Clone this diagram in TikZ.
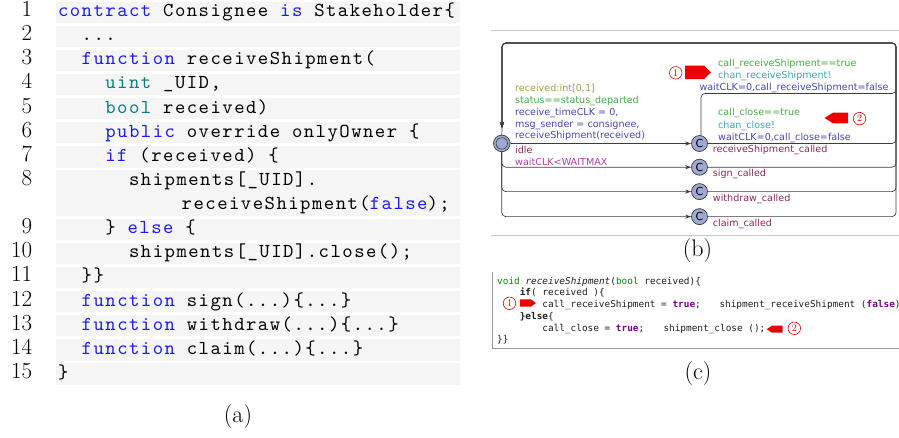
\documentclass[tikz,border=0pt]{standalone}
\usepackage{fontspec}
\newfontfamily\codett{lmmono10-regular.otf}[LetterSpace=7.5]
\newfontfamily\uppfont{DejaVu Sans}
\newfontfamily\cmono{DejaVu Sans Mono}
\usetikzlibrary{arrows.meta,calc}
\definecolor{kwblue}{RGB}{25,25,250}
\definecolor{tyteal}{RGB}{0,128,128}
\definecolor{bandgray}{RGB}{245,245,245}
\definecolor{uolive}{RGB}{160,160,60}
\definecolor{ugreen}{RGB}{70,170,70}
\definecolor{ublue}{RGB}{70,70,185}
\definecolor{uteal}{RGB}{60,165,175}
\definecolor{umaroon}{RGB}{140,40,90}
\definecolor{umag}{RGB}{175,60,175}
\definecolor{sfill}{RGB}{160,168,212}
\definecolor{edgec}{RGB}{60,60,60}
\definecolor{cgreen}{RGB}{0,140,0}
\definecolor{cpurple}{RGB}{120,0,140}
\definecolor{mred}{RGB}{235,0,0}
\definecolor{rulegray}{RGB}{200,200,200}
\newcommand{\kw}[1]{{\color{kwblue}#1}}
\newcommand{\ty}[1]{{\color{tyteal}#1}}
\newcommand{\tv}[1]{{\bfseries\color{cpurple}#1}}
\begin{document}
\begin{tikzpicture}[x=1pt,y=-1pt,
  codeline/.style={anchor=base west,inner sep=0pt,font=\fontsize{19.75}{22}\selectfont\codett},
  lnum/.style={anchor=base east,inner sep=0pt,font=\fontsize{23}{23}\selectfont},
  capt/.style={anchor=base,inner sep=0pt,font=\fontsize{24}{24}\selectfont},
  ulabel/.style={anchor=base west,inner sep=0pt,font=\fontsize{9.6}{11}\selectfont\uppfont},
  cstate/.style={circle,draw=edgec,fill=sfill,line width=0.7pt,minimum size=16pt,inner sep=0pt,font=\fontsize{11}{11}\selectfont\uppfont},
  edge/.style={draw=edgec,line width=0.7pt,rounded corners=4pt},
  arr/.style={-{Stealth[length=6pt,width=4pt]}},
  cline/.style={anchor=base west,inner sep=0pt,font=\fontsize{9.4}{11}\selectfont\cmono,text=black!88},
  circnum/.style={circle,draw=mred,text=mred,line width=0.6pt,inner sep=0pt,minimum size=12.5pt,font=\fontsize{10}{10}\selectfont},
  marker/.style={fill=mred}
]
\useasboundingbox (0,0) rectangle (899,437);

% ---------------- panel (a) ----------------
\foreach \r in {1,...,7,10,11,12,13,14,15,16}{
  \fill[bandgray] (56,{16.5+(\r-1)*24.13-15}) rectangle (460,{16.5+(\r-1)*24.13+6.3});
}
\fill[bandgray] (56,{16.5+7*24.13-15}) rectangle (460,{16.5+8*24.13+6.3});

\foreach \n/\r in {1/1,2/2,3/3,4/4,5/5,6/6,7/7,8/8,9/10,10/11,11/12,12/13,13/14,14/15,15/16}{
  \node[lnum] (n\n) at (32.5,{16.5+(\r-1)*24.13}) {\n};
}

\node[codeline] (l1)  at (57.8,16.5)   {\kw{contract} Consignee \kw{is} Stakeholder\{};
\node[codeline] (l2)  at (81.5,40.63)  {...};
\node[codeline] (l3)  at (81.5,64.76)  {\kw{function} receiveShipment(};
\node[codeline] (l4)  at (105.2,88.89) {\ty{uint} \_UID,};
\node[codeline] (l5)  at (105.2,113.02){\ty{bool} received)};
\node[codeline] (l6)  at (105.2,137.15){\kw{public} override onlyOwner \{};
\node[codeline] (l7)  at (105.2,161.28){\kw{if} (received) \{};
\node[codeline] (l8)  at (128.9,185.41){shipments[\_UID].};
\node[codeline] (l8b) at (181.5,209.54){receiveShipment(\kw{false});};
\node[codeline] (l9)  at (105.2,233.67){\} \kw{else} \{};
\node[codeline] (l10) at (128.9,257.8) {shipments[\_UID].close();};
\node[codeline] (l11) at (81.5,281.93) {\}\}};
\node[codeline] (l12) at (81.5,306.06) {\kw{function} sign(...)\{...\}};
\node[codeline] (l13) at (81.5,330.19) {\kw{function} withdraw(...)\{...\}};
\node[codeline] (l14) at (81.5,354.32) {\kw{function} claim(...)\{...\}};
\node[codeline] (l15) at (57.8,378.45) {\}};

\node[capt] (capa) at (238,422.5) {(a)};

% ---------------- panel (b) ----------------
\draw[rulegray,line width=0.9pt] (491,30) -- (899,30);
\draw[rulegray,line width=0.9pt] (491,235) -- (899,235);

\node[circle,draw=edgec,fill=sfill,line width=0.7pt,minimum size=16.6pt,inner sep=0pt] (idle) at (501.8,143.4) {};
\node[circle,draw=edgec,line width=0.6pt,minimum size=11.5pt,inner sep=0pt] (idlei) at (501.8,143.4) {};
\node[cstate] (c1) at (699.5,143.5) {C};
\node[cstate] (c2) at (699.5,167.2) {C};
\node[cstate] (c3) at (699.5,191.6) {C};
\node[cstate] (c4) at (699.5,216.6) {C};

\coordinate (tl) at (502,43);
\coordinate (idlein) at (502,128);
\coordinate (b93) at (896,93.5);
\coordinate (b143) at (896,143.5);
\coordinate (b167) at (896,167.2);
\coordinate (b191) at (896,191.6);
\coordinate (b216) at (896,216.6);

% idle -> committed states
\draw[edge,arr] (idle.east) -- (c1.west);
\draw[edge,arr] (idle.south) |- (c2.west);
\draw[edge,arr] (idle.south) |- (c3.west);
\draw[edge,arr] (idle.south) |- (c4.west);
% committed states -> idle
\draw[edge,arr] (c1.80) |- (b93) |- (tl) -- (idlein);
\draw[edge,arr] (c1.east) -- (b143) |- (tl) -- (idlein);
\draw[edge,arr] (c2.east) -- (b167) |- (tl) -- (idlein);
\draw[edge,arr] (c3.east) -- (b191) |- (tl) -- (idlein);
\draw[edge,arr] (c4.east) -- (b216) |- (tl) -- (idlein);
\draw[edge] (idlein) -- (idle.north);

\node[ulabel,text=uolive]  (t1) at (515,91.8)  {received:int[0,1]};
\node[ulabel,text=ugreen]  (t2) at (515,103.5) {status==status\_departed};
\node[ulabel,text=ublue]   (t3) at (515,115.2) {receive\_timeCLK = 0,};
\node[ulabel,text=ublue]   (t4) at (515,127)   {msg\_sender = consignee,};
\node[ulabel,text=ublue]   (t5) at (515,138.7) {receiveShipment(received)};
\node[ulabel,text=umaroon] (t6) at (515,153.5) {idle};
\node[ulabel,text=umag]    (t7) at (515,165.2) {waitCLK<WAITMAX};

\node[ulabel,text=ugreen]  (r1) at (718,66)    {call\_receiveShipment==true};
\node[ulabel,text=uteal]   (r2) at (718,78.5)  {chan\_receiveShipment!};
\node[ulabel,text=ublue]   (r3) at (699.3,90.8){waitCLK=0,call\_receiveShipment=false};
\node[ulabel,text=ugreen]  (k1) at (718,115.7) {call\_close==true};
\node[ulabel,text=uteal]   (k2) at (718,128.2) {chan\_close!};
\node[ulabel,text=ublue]   (k3) at (718,140.2) {waitCLK=0,call\_close=false};

\node[ulabel,text=umaroon] (s1) at (712.7,152.5) {receiveShipment\_called};
\node[ulabel,text=umaroon] (s2) at (712.7,176.8) {sign\_called};
\node[ulabel,text=umaroon] (s3) at (712.7,201.8) {withdraw\_called};
\node[ulabel,text=umaroon] (s4) at (712.7,226.8) {claim\_called};

\node[circnum] (m1b) at (675.7,72.8) {1};
\fill[marker] (685,65.5) -- (704,65.5) -- (711,72.3) -- (704,79) -- (685,79) -- cycle;
\fill[marker] (824.5,118) -- (833,112.7) -- (848,112.7) -- (848,123.3) -- (833,123.3) -- cycle;
\node[circnum] (m2b) at (859.5,118.6) {2};

\node[capt] (capb) at (697.5,256) {(b)};

% ---------------- panel (c) ----------------
\draw[black!40,line width=0.8pt] (492,272) -- (492,348.3) -- (899,348.3);

\node[cline] (v1) at (497,284)     {{\color{cgreen}void} \textit{receiveShipment}({\color{cgreen}bool} received)\{};
\node[cline] (v2) at (519.6,295.75){\textbf{if}( received )\{};
\node[cline] (v3) at (542.2,307.5) {call\_receiveShipment = \tv{true};};
\node[cline] (v3b) at (719.3,307.5){shipment\_receiveShipment (\tv{false})};
\node[cline] (v4) at (519.6,319.25){\textbf{\}else}\{};
\node[cline] (v5) at (542.2,331)   {call\_close = \tv{true};};
\node[cline] (v5b) at (663.3,331)  {shipment\_close ();};
\node[cline] (v6) at (497,342.75)  {\}\}};

\node[circnum] (m1c) at (509.5,303.3) {1};
\fill[marker] (520,299.3) -- (531,299.3) -- (536,303) -- (531,306.7) -- (520,306.7) -- cycle;
\fill[marker] (766.7,329.2) -- (772,325.7) -- (782.7,325.7) -- (782.7,332.7) -- (772,332.7) -- cycle;
\node[circnum] (m2c) at (794.3,328.3) {2};

\node[capt] (capc) at (698,379) {(c)};
\end{tikzpicture}
\end{document}
